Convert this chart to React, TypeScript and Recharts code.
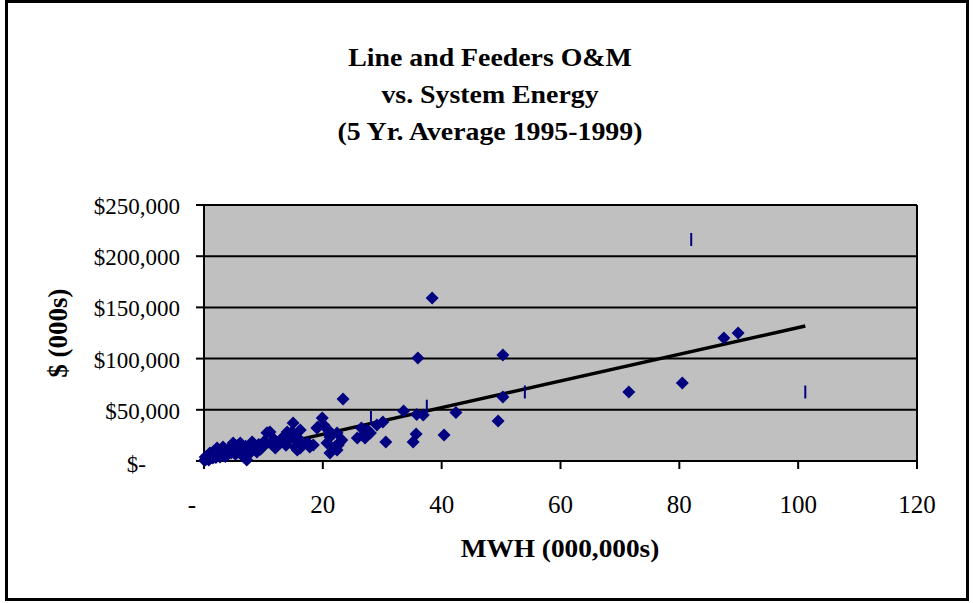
import React from 'react';
import { ScatterChart, Scatter, XAxis, YAxis, CartesianGrid, ReferenceLine } from 'recharts';

const FONT = "'Liberation Serif', 'Times New Roman', serif";
const NAVY = '#000080';

const titleLines = ['Line and Feeders O&M', 'vs. System Energy', '(5 Yr. Average 1995-1999)'];
const xTitle = 'MWH (000,000s)';
const yTitle = '$ (000s)';
const xTicks = [0, 20, 40, 60, 80, 100, 120];
const yTicks = [0, 50000, 100000, 150000, 200000, 250000];

// [MWH (000,000s), $ (000s)]
const smallUtilities: [number, number][] = [
  [0.1, 500], [0.2, 3900], [0.3, 1500], [0.5, 2500], [0.6, 5000], [0.8, 1000], [1.0, 7800],
  [1.1, 3000], [1.3, 4500], [1.5, 2900], [1.6, 9000], [1.8, 6000], [2.0, 3500], [2.2, 12700],
  [2.4, 8000], [2.7, 3900], [2.9, 10500], [3.0, 6500], [3.2, 13700], [3.4, 9000], [3.6, 4500],
  [3.9, 5900], [4.1, 11500], [4.4, 10700], [4.6, 8000], [4.9, 17600], [5.1, 13000], [5.3, 6500],
  [5.6, 15000], [5.8, 9500], [6.1, 17600], [6.1, 7800], [6.4, 12000], [6.7, 4000], [7.0, 14500],
  [7.2, 1000], [7.4, 5900], [7.7, 11000], [8.1, 18600], [8.4, 14000], [8.9, 8800], [9.2, 16000],
  [9.5, 11500], [9.8, 13700], [10.2, 19500], [10.6, 27500], [11.1, 28300], [11.4, 16500],
  [11.8, 21000], [12.0, 12700], [12.4, 18000], [12.8, 17600], [13.1, 20500], [13.5, 24500],
  [13.8, 15500],
];

const midUtilities: [number, number][] = [
  [14.0, 28300], [14.4, 21500], [14.8, 28300], [15.0, 37100], [15.3, 13700], [15.7, 10700],
  [15.8, 22500], [16.2, 30300], [16.2, 12700], [16.7, 17600], [17.5, 17600], [17.8, 13700],
  [18.4, 15600], [19.0, 32200], [19.2, 33200], [19.9, 42000], [20.2, 35000], [20.7, 17600],
  [20.9, 30300], [21.2, 23400], [21.2, 7800], [22.0, 13700], [22.4, 27300], [22.4, 10700],
  [22.6, 15600], [22.9, 18600], [23.2, 20500], [23.4, 60500], [25.8, 22500], [26.5, 32200],
  [26.8, 25400], [27.1, 22500], [27.5, 30300], [28.0, 27300], [29.1, 35200], [30.1, 38100],
  [30.6, 18600],
];

const largeUtilities: [number, number][] = [
  [33.6, 48800], [35.2, 18600], [35.7, 26400], [35.8, 45500], [36.0, 100600], [36.9, 45000],
  [38.4, 159200], [40.4, 25400], [42.4, 47400], [49.5, 39000], [50.3, 103500], [50.3, 62500],
  [71.5, 67400], [80.5, 76200], [87.5, 120100], [89.9, 125000],
];

const flaggedUtilities: [number, number][] = [
  [20.3, 31000], [28.1, 42500], [37.5, 53500], [54.0, 67400], [82.0, 216300], [101.2, 67400],
];

const trendStart = { x: 0, y: 0 };
const trendEnd = { x: 101.2, y: 131800 };

const toPoints = (rows: [number, number][]) => rows.map(([x, y]) => ({ x, y }));
const diamondData = toPoints([...smallUtilities, ...midUtilities, ...largeUtilities]);
const dashData = toPoints(flaggedUtilities);

const Diamond = (props: any) => {
  const { cx, cy } = props;
  const r = 6.5;
  return <polygon points={`${cx},${cy - r} ${cx + r},${cy} ${cx},${cy + r} ${cx - r},${cy}`} fill={NAVY} />;
};

const Dash = (props: any) => {
  const { cx, cy } = props;
  return <line x1={cx} x2={cx} y1={cy - 6.5} y2={cy + 6.5} stroke={NAVY} strokeWidth={2} />;
};

const XTick = (props: any) => {
  const { x, y, payload } = props;
  const zero = payload.value === 0;
  return (
    <text x={zero ? x - 12 : x} y={y + 42} textAnchor="middle" fontSize={25} fontFamily={FONT} fill="#000">
      {zero ? '-' : payload.value}
    </text>
  );
};

const YTick = (props: any) => {
  const { x, y, payload } = props;
  const zero = payload.value === 0;
  return (
    <text x={zero ? x - 34 : x} y={zero ? y + 11 : y + 9} textAnchor="end" fontSize={23} fontFamily={FONT} fill="#000">
      {zero ? '$-' : `$${payload.value.toLocaleString('en-US')}`}
    </text>
  );
};

const boldText: React.CSSProperties = { fontFamily: FONT, fontWeight: 'bold', color: '#000', position: 'absolute', whiteSpace: 'nowrap' };

export default function App() {
  return (
    <div style={{ position: 'absolute', left: 0, top: 0, width: 973, height: 603, background: '#fff' }}>
      <div style={{ position: 'absolute', left: 5, top: 0, width: 964, height: 601, border: '3px solid #000', boxSizing: 'border-box' }} />
      <div style={{ ...boldText, fontSize: 26, left: 0, width: 980, top: 38.5, textAlign: 'center', lineHeight: '37px', transform: 'scaleX(1.07)', transformOrigin: '490px 0' }}>
        {titleLines.map((t) => (
          <div key={t}>{t}</div>
        ))}
      </div>
      <div style={{ ...boldText, fontSize: 27, left: 58, top: 333, transform: 'translate(-50%, -50%) rotate(-90deg)' }}>{yTitle}</div>
      <div style={{ ...boldText, fontSize: 26, left: 560, top: 549, transform: 'translate(-50%, -50%) scaleX(1.05)' }}>{xTitle}</div>
      <ScatterChart width={973} height={603} margin={{ top: 205, right: 56, bottom: 97, left: 84 }}>
        <CartesianGrid vertical={false} stroke="#000" strokeWidth={2} fill="#C0C0C0" fillOpacity={1} />
        <XAxis
          type="number"
          dataKey="x"
          domain={[0, 120]}
          ticks={xTicks}
          height={45}
          tickSize={8}
          axisLine={{ stroke: '#000', strokeWidth: 2 }}
          tickLine={{ stroke: '#000', strokeWidth: 2 }}
          tick={<XTick />}
          interval={0}
        />
        <YAxis
          type="number"
          dataKey="y"
          domain={[0, 250000]}
          ticks={yTicks}
          width={120}
          tickSize={8}
          tickMargin={16}
          axisLine={{ stroke: '#000', strokeWidth: 2 }}
          tickLine={{ stroke: '#000', strokeWidth: 2 }}
          tick={<YTick />}
          interval={0}
        />
        <ReferenceLine x={120} stroke="#000" strokeWidth={2} />
        <Scatter data={diamondData} shape={<Diamond />} isAnimationActive={false} />
        <Scatter data={dashData} shape={<Dash />} isAnimationActive={false} />
        <ReferenceLine segment={[trendStart, trendEnd]} stroke="#000" strokeWidth={3.5} ifOverflow="visible" />
      </ScatterChart>
    </div>
  );
}
